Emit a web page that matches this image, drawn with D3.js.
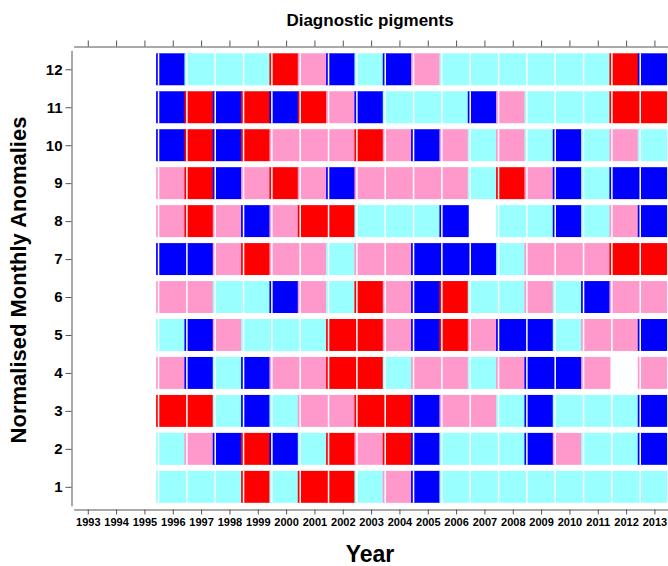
<!DOCTYPE html>
<html>
<head>
<meta charset="utf-8">
<script src="https://cdn.jsdelivr.net/npm/d3@7"></script>
<style>
  body { margin: 0; background: #fff; }
  text { font-family: "Liberation Sans", Arial, sans-serif; font-weight: bold; fill: #000; }
</style>
</head>
<body>
<div id="chart"></div>
<script>
// axis ticks
const years = [1993, 1994, 1995, 1996, 1997, 1998, 1999, 2000, 2001, 2002, 2003,
  2004, 2005, 2006, 2007, 2008, 2009, 2010, 2011, 2012, 2013];
const months = [1, 2, 3, 4, 5, 6, 7, 8, 9, 10, 11, 12];

// years that have data
const dataYears = [1996, 1997, 1998, 1999, 2000, 2001, 2002, 2003, 2004,
  2005, 2006, 2007, 2008, 2009, 2010, 2011, 2012, 2013];

// anomaly class per month, one entry per data year
// B = strong negative, C = weak negative, P = weak positive, R = strong positive, null = no data
const m01 = ["C","C","C","R","C","R","R","C","P","B","C","C","C","C","C","C","C","C"];
const m02 = ["C","P","B","R","B","C","R","P","R","B","C","C","C","B","P","C","C","B"];
const m03 = ["R","R","C","B","C","P","P","R","R","B","P","P","C","B","C","C","C","B"];
const m04 = ["P","B","C","B","P","P","R","R","C","P","P","C","P","B","B","P",null,"P"];
const m05 = ["C","B","P","C","C","C","R","R","P","B","R","P","B","B","C","P","P","B"];
const m06 = ["P","P","C","C","B","P","C","R","P","B","R","C","C","P","C","B","P","P"];
const m07 = ["B","B","P","R","P","P","C","P","P","B","B","B","C","P","P","P","R","R"];
const m08 = ["P","R","P","B","P","R","R","C","C","C","B",null,"C","C","B","C","P","B"];
const m09 = ["P","R","B","P","R","P","B","P","P","P","P","C","R","P","B","C","B","B"];
const m10 = ["B","R","B","R","P","P","P","R","P","B","P","C","P","C","B","C","P","C"];
const m11 = ["B","R","B","R","B","R","P","B","C","C","C","B","P","C","C","C","R","R"];
const m12 = ["B","C","C","C","R","P","B","C","B","P","C","C","C","C","C","C","R","B"];

const classCodes = ["B", "C", "P", "R"];
const classColors = ["#0000ff", "#99ffff", "#ff99cc", "#ff0000"];

const rows = [m01, m02, m03, m04, m05, m06, m07, m08, m09, m10, m11, m12];

const width = 668, height = 566;

const svg = d3.select("#chart")
  .append("svg")
  .attr("width", width)
  .attr("height", height);

const x = d3.scaleLinear().domain([1992.5, 2013.5]).range([73.6, 668.6]);
const y = d3.scaleLinear().domain([0.5, 12.5]).range([505.8, 50.3]);
const color = d3.scaleOrdinal().domain(classCodes).range(classColors);

// flatten to cells
const cells = [];
rows.forEach((row, i) => {
  row.forEach((c, j) => {
    if (c !== null) cells.push({ month: months[i], year: dataYears[j], cls: c });
  });
});

const step = x(1) - x(0);
const rowStep = y(0) - y(1);

const cellG = svg.append("g");
// draw column by column so the next cell overlaps the previous one a little
cells.sort((a, b) => a.year - b.year);

cellG.selectAll(".cell")
  .data(cells)
  .join("rect")
  .attr("class", "cell")
  .attr("x", d => x(d.year - 0.5) - 2.5)
  .attr("y", d => y(d.month + 0.5) + 3)
  .attr("width", step + 1)
  .attr("height", rowStep - 6)
  .attr("fill", d => color(d.cls));

// white seam near each cell's left edge
cellG.selectAll(".seam")
  .data(cells)
  .join("rect")
  .attr("class", "seam")
  .attr("x", d => x(d.year - 0.5) - 0.8)
  .attr("y", d => y(d.month + 0.5) + 3)
  .attr("width", 1.5)
  .attr("height", rowStep - 6)
  .attr("fill", "#fff");

// axes
const axisColor = "#555";

const xAxisBottom = svg.append("g")
  .attr("transform", "translate(0,509.5)")
  .call(d3.axisBottom(x).tickValues(years).tickFormat(d3.format("d"))
    .tickSize(5).tickSizeOuter(0).tickPadding(4));
xAxisBottom.selectAll("text").style("font-size", "11px");

svg.append("g")
  .attr("transform", "translate(0,46.5)")
  .call(d3.axisTop(x).tickValues(years).tickFormat("")
    .tickSize(6).tickSizeOuter(0));

const yAxisLeft = svg.append("g")
  .attr("transform", "translate(71.5,0)")
  .call(d3.axisLeft(y).tickValues(months).tickSize(6).tickSizeOuter(0).tickPadding(3));
yAxisLeft.selectAll("text").style("font-size", "15px");

svg.selectAll(".domain, .tick line").attr("stroke", axisColor);
svg.selectAll(".tick text").attr("fill", "#000");

// titles
svg.append("text")
  .attr("x", 370)
  .attr("y", 26)
  .attr("text-anchor", "middle")
  .style("font-size", "17px")
  .text("Diagnostic pigments");

svg.append("text")
  .attr("x", 370)
  .attr("y", 562)
  .attr("text-anchor", "middle")
  .style("font-size", "23px")
  .text("Year");

svg.append("text")
  .attr("transform", "translate(26,280) rotate(-90)")
  .attr("text-anchor", "middle")
  .style("font-size", "22px")
  .text("Normalised Monthly Anomalies");
</script>
</body>
</html>
